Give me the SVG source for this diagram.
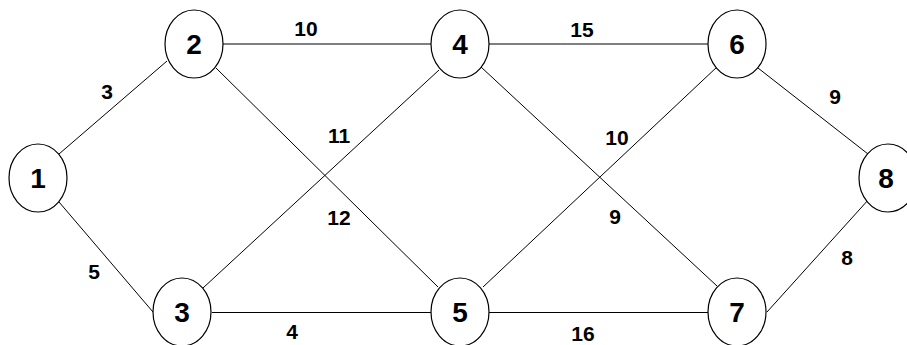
<svg xmlns="http://www.w3.org/2000/svg" width="907" height="345" viewBox="0 0 907 345">
<style>
.n ellipse{fill:#fff;stroke:#000;stroke-width:1.2}
.n text{font-family:"Liberation Sans",Arial,sans-serif;font-weight:bold;font-size:28px;text-anchor:middle}
.e line{stroke:#000;stroke-width:1}
.l text{font-family:"Liberation Sans",Arial,sans-serif;font-weight:bold;font-size:21px;text-anchor:middle}
</style>
<rect width="907" height="345" fill="#fff"/>
<g class="e" id="edges">
<line x1="59" y1="154" x2="167" y2="61"/>
<line x1="59" y1="202" x2="153" y2="312"/>
<line x1="223" y1="44" x2="431" y2="44"/>
<line x1="212" y1="312.5" x2="431" y2="312.5"/>
<line x1="216" y1="68" x2="438" y2="287"/>
<line x1="203" y1="288" x2="439" y2="70"/>
<line x1="489" y1="44" x2="708" y2="44"/>
<line x1="489" y1="312.5" x2="708" y2="312.5"/>
<line x1="481" y1="67" x2="717" y2="286"/>
<line x1="483" y1="287" x2="718" y2="66"/>
<line x1="758" y1="68" x2="868" y2="154"/>
<line x1="767" y1="312" x2="869" y2="199"/>
</g>
<g class="n" id="node1"><ellipse cx="38" cy="178" rx="29" ry="34"/><text x="38" y="188">1</text></g>
<g class="n" id="node2"><ellipse cx="194" cy="44" rx="29" ry="34"/><text x="194" y="54">2</text></g>
<g class="n" id="node3"><ellipse cx="182" cy="312" rx="29" ry="34"/><text x="182" y="322">3</text></g>
<g class="n" id="node4"><ellipse cx="460" cy="44" rx="29" ry="34"/><text x="460" y="54">4</text></g>
<g class="n" id="node5"><ellipse cx="460" cy="312" rx="29" ry="34"/><text x="460" y="322">5</text></g>
<g class="n" id="node6"><ellipse cx="737" cy="44" rx="29" ry="34"/><text x="737" y="54">6</text></g>
<g class="n" id="node7"><ellipse cx="737" cy="312" rx="29" ry="34"/><text x="737" y="322">7</text></g>
<g class="n" id="node8"><ellipse cx="888" cy="178" rx="29" ry="34"/><text x="886" y="188">8</text></g>
<g class="l" id="labels">
<text x="107" y="99">3</text>
<text x="94" y="279">5</text>
<text x="306" y="36">10</text>
<text x="292" y="339">4</text>
<text x="339" y="143">11</text>
<text x="339" y="225">12</text>
<text x="582" y="37">15</text>
<text x="583" y="341">16</text>
<text x="617" y="145">10</text>
<text x="615" y="224">9</text>
<text x="835" y="104">9</text>
<text x="847" y="265">8</text>
</g>
</svg>
